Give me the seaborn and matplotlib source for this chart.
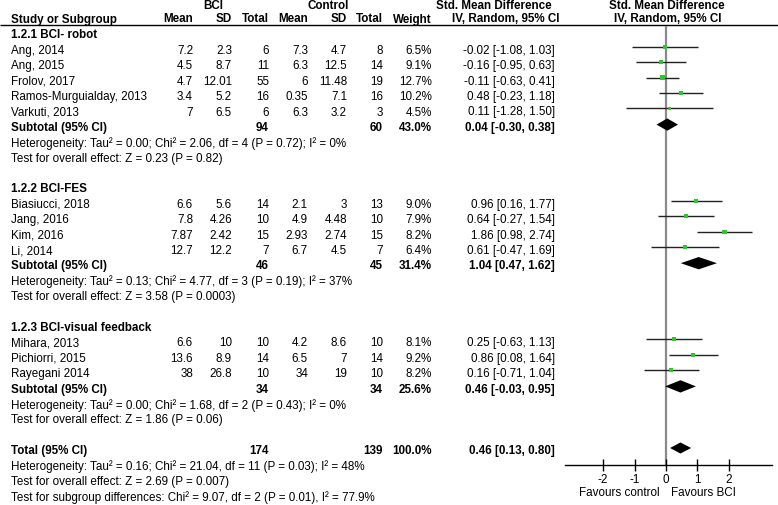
import numpy as np
import pandas as pd
import seaborn as sns
import matplotlib
matplotlib.use('Agg')
import matplotlib.pyplot as plt

# study level data
study = ['Ang, 2014', 'Ang, 2015', 'Frolov, 2017', 'Ramos-Murguialday, 2013', 'Varkuti, 2013',
         'Biasiucci, 2018', 'Jang, 2016', 'Kim, 2016', 'Li, 2014',
         'Mihara, 2013', 'Pichiorri, 2015', 'Rayegani 2014']
group = [0, 0, 0, 0, 0, 1, 1, 1, 1, 2, 2, 2]
bci_mean = [7.2, 4.5, 4.7, 3.4, 7, 6.6, 7.8, 7.87, 12.7, 6.6, 13.6, 38]
bci_sd = [2.3, 8.7, 12.01, 5.2, 6.5, 5.6, 4.26, 2.42, 12.2, 10, 8.9, 26.8]
bci_n = [6, 11, 55, 16, 6, 14, 10, 15, 7, 10, 14, 10]
ctl_mean = [7.3, 6.3, 6, 0.35, 6.3, 2.1, 4.9, 2.93, 6.7, 4.2, 6.5, 34]
ctl_sd = [4.7, 12.5, 11.48, 7.1, 3.2, 3, 4.48, 2.74, 4.5, 8.6, 7, 19]
ctl_n = [8, 14, 19, 16, 3, 13, 10, 15, 7, 10, 14, 10]
weight = [6.5, 9.1, 12.7, 10.2, 4.5, 9.0, 7.9, 8.2, 6.4, 8.1, 9.2, 8.2]
smd = [-0.02, -0.16, -0.11, 0.48, 0.11, 0.96, 0.64, 1.86, 0.61, 0.25, 0.86, 0.16]
ci_lo = [-1.08, -0.95, -0.63, -0.23, -1.28, 0.16, -0.27, 0.98, -0.47, -0.63, 0.08, -0.71]
ci_hi = [1.03, 0.63, 0.41, 1.18, 1.50, 1.77, 1.54, 2.74, 1.69, 1.13, 1.64, 1.04]

# subgroup data
sub_name = ['1.2.1 BCI- robot', '1.2.2 BCI-FES', '1.2.3 BCI-visual feedback']
sub_bci_n = [94, 46, 34]
sub_ctl_n = [60, 45, 34]
sub_weight = [43.0, 31.4, 25.6]
sub_smd = [0.04, 1.04, 0.46]
sub_lo = [-0.30, 0.47, -0.03]
sub_hi = [0.38, 1.62, 0.95]
sub_het = ['Heterogeneity: Tau² = 0.00; Chi² = 2.06, df = 4 (P = 0.72); I² = 0%',
           'Heterogeneity: Tau² = 0.13; Chi² = 4.77, df = 3 (P = 0.19); I² = 37%',
           'Heterogeneity: Tau² = 0.00; Chi² = 1.68, df = 2 (P = 0.43); I² = 0%']
sub_test = ['Test for overall effect: Z = 0.23 (P = 0.82)',
            'Test for overall effect: Z = 3.58 (P = 0.0003)',
            'Test for overall effect: Z = 1.86 (P = 0.06)']

# overall
tot_bci_n, tot_ctl_n, tot_weight = 174, 139, 100.0
tot_smd, tot_lo, tot_hi = 0.46, 0.13, 0.80
tot_notes = ['Heterogeneity: Tau² = 0.16; Chi² = 21.04, df = 11 (P = 0.03); I² = 48%',
             'Test for overall effect: Z = 2.69 (P = 0.007)',
             'Test for subgroup differences: Chi² = 9.07, df = 2 (P = 0.01), I² = 77.9%']
xticks = [-2, -1, 0, 1, 2]

sns.set_theme(style='white')
plt.rcParams['font.family'] = ['Liberation Sans', 'DejaVu Sans']
FS = 8.4
GREEN = '#2ec62e'

W, H = 778, 506
ROW0, DY = 35.5, 15.4
LX = 11


def row_of(py):
    return (py - ROW0) / DY


fig = plt.figure(figsize=(W / 100, H / 100), dpi=100)
ax0 = fig.add_axes([0, 0, 1, 1])
ax0.set_xlim(0, W)
ax0.set_ylim(row_of(H), row_of(0))
ax0.axis('off')

# forest panel
X0_PX, UNIT_PX = 666, 31.45
AX_L, AX_R, AX_T, AX_B = 565, 772, 27, 466
ax = fig.add_axes([AX_L / W, 1 - AX_B / H, (AX_R - AX_L) / W, (AX_B - AX_T) / H])
ax.set_xlim((AX_L - X0_PX) / UNIT_PX, (AX_R - X0_PX) / UNIT_PX)
ax.set_ylim(row_of(AX_B), row_of(AX_T))
ax.patch.set_alpha(0)

cols = {'bm': 193, 'bs': 232, 'bn': 269, 'cm': 308, 'cs': 347, 'cn': 383, 'w': 432, 'ci': 555}


def txt(x, r, s, ha='left', bold=False):
    ax0.text(x, r, s, ha=ha, va='center', fontsize=FS, color='black',
             fontweight='bold' if bold else 'normal')


def fmt_ci(e, lo, hi):
    return '%.2f [%.2f, %.2f]' % (e, lo, hi)


# headers
txt(213, row_of(6), 'BCI', ha='center', bold=True)
txt(328, row_of(6), 'Control', ha='center', bold=True)
txt(494, row_of(6), 'Std. Mean Difference', ha='center', bold=True)
txt(667, row_of(6), 'Std. Mean Difference', ha='center', bold=True)
hr = row_of(19.5)
txt(LX, hr, 'Study or Subgroup', bold=True)
for k, lab in [('bm', 'Mean'), ('bs', 'SD'), ('bn', 'Total'), ('cm', 'Mean'),
               ('cs', 'SD'), ('cn', 'Total'), ('w', 'Weight')]:
    txt(cols[k], hr, lab, ha='right', bold=True)
txt(506, hr, 'IV, Random, 95% CI', ha='center', bold=True)
txt(668, hr, 'IV, Random, 95% CI', ha='center', bold=True)
ax0.hlines(row_of(25.5), 0, W, color='black', lw=1)

# lay out rows
rows = []
sub_rows = []
r = 0
for g in range(len(sub_name)):
    txt(LX, r, sub_name[g], bold=True)
    r += 1
    for i in [j for j in range(len(study)) if group[j] == g]:
        txt(LX, r, study[i])
        txt(cols['bm'], r, '%g' % bci_mean[i], ha='right')
        txt(cols['bs'], r, '%g' % bci_sd[i], ha='right')
        txt(cols['bn'], r, '%d' % bci_n[i], ha='right')
        txt(cols['cm'], r, '%g' % ctl_mean[i], ha='right')
        txt(cols['cs'], r, '%g' % ctl_sd[i], ha='right')
        txt(cols['cn'], r, '%d' % ctl_n[i], ha='right')
        txt(cols['w'], r, '%.1f%%' % weight[i], ha='right')
        txt(cols['ci'], r, fmt_ci(smd[i], ci_lo[i], ci_hi[i]), ha='right')
        rows.append(r)
        r += 1
    txt(LX, r, 'Subtotal (95% CI)', bold=True)
    txt(cols['bn'], r, '%d' % sub_bci_n[g], ha='right', bold=True)
    txt(cols['cn'], r, '%d' % sub_ctl_n[g], ha='right', bold=True)
    txt(cols['w'], r, '%.1f%%' % sub_weight[g], ha='right', bold=True)
    txt(cols['ci'], r, fmt_ci(sub_smd[g], sub_lo[g], sub_hi[g]), ha='right', bold=True)
    sub_rows.append(r)
    txt(LX, r + 1, sub_het[g])
    txt(LX, r + 2, sub_test[g])
    r += 4

tot_row = r
txt(LX, r, 'Total (95% CI)', bold=True)
txt(cols['bn'], r, '%d' % tot_bci_n, ha='right', bold=True)
txt(cols['cn'], r, '%d' % tot_ctl_n, ha='right', bold=True)
txt(cols['w'], r, '%.1f%%' % tot_weight, ha='right', bold=True)
txt(cols['ci'], r, fmt_ci(tot_smd, tot_lo, tot_hi), ha='right', bold=True)
for k, note in enumerate(tot_notes):
    txt(LX, r + 1 + k, note)

# forest marks
df = pd.DataFrame({'study': study, 'smd': smd, 'lo': ci_lo, 'hi': ci_hi,
                   'weight': weight, 'y': np.array(rows) - 0.2})
ax.axvline(0, color='#8a8a8a', lw=1.6, zorder=0)
ax.hlines(df['y'], df['lo'], df['hi'], color='#222222', lw=1, zorder=2)
sns.scatterplot(data=df, x='smd', y='y', size='weight', sizes=(6, 12), marker='s',
                color=GREEN, linewidth=0, legend=False, ax=ax, zorder=3)


def diamond(y, est, lo, hi, h):
    ax.fill([lo, est, hi, est], [y, y - h, y, y + h], color='black', lw=0, zorder=3)


for g in range(len(sub_name)):
    diamond(sub_rows[g] - 0.15, sub_smd[g], sub_lo[g], sub_hi[g], 0.4)
diamond(tot_row - 0.15, tot_smd, tot_lo, tot_hi, 0.36)

ax.set_xticks(xticks)
ax.set_xticklabels([str(t) for t in xticks])
ax.set_yticks([])
ax.set_xlabel('')
ax.set_ylabel('')
sns.despine(ax=ax, left=True)
ax.spines['bottom'].set_color('black')
ax.spines['bottom'].set_linewidth(1)
ax.tick_params(axis='x', bottom=True, direction='inout', length=8, width=1,
               color='black', labelsize=FS, pad=1.5, labelcolor='black')

txt(619, row_of(493), 'Favours control', ha='center')
txt(703, row_of(493), 'Favours BCI', ha='center')

fig.savefig('out.png', dpi=100)
